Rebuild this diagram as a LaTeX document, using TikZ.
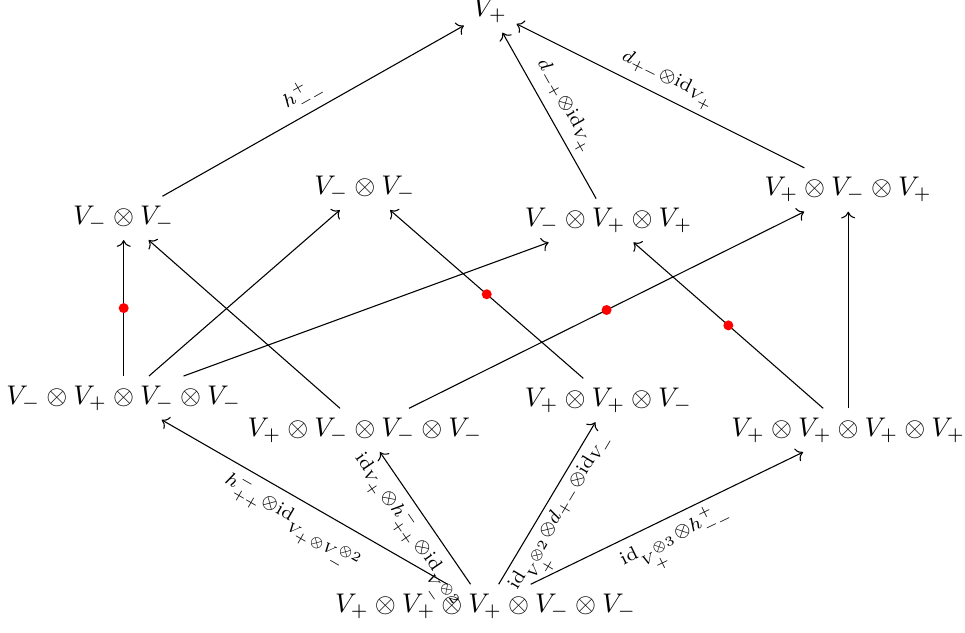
\documentclass[tikz,border=0pt]{standalone}
\usetikzlibrary{arrows.meta}

\begin{document}
\begin{tikzpicture}[>=To,lbl/.style={sloped,inner sep=2pt},dot/.style={circle,fill=red,inner sep=0pt,minimum size=3.7pt}]
\useasboundingbox (0,0) rectangle (12.56,8.23);
\node (top) at (6.38,8.09) {$V_+$};
\node (mm1) at (1.61,5.39) {$V_-\otimes V_-$};
\node (mm2) at (4.75,5.78) {$V_-\otimes V_-$};
\node (mpp) at (7.92,5.36) {$V_-\otimes V_+\otimes V_+$};
\node (pmp) at (11.04,5.76) {$V_+\otimes V_-\otimes V_+$};
\node (mpmm) at (1.61,3.05) {$V_-\otimes V_+\otimes V_-\otimes V_-$};
\node (pmmm) at (4.75,2.63) {$V_+\otimes V_-\otimes V_-\otimes V_-$};
\node (ppm) at (7.92,3.02) {$V_+\otimes V_+\otimes V_-$};
\node (pppp) at (11.04,2.63) {$V_+\otimes V_+\otimes V_+\otimes V_+$};
\node (bot) at (6.32,0.34) {$V_+\otimes V_+\otimes V_+\otimes V_-\otimes V_-$};
% top row
\draw[->] (mm1)--(top) node[midway,lbl,above] {$\scriptstyle h^+_{--}$};
\draw[->] (mpp)--(top) node[midway,lbl,above] {$\scriptstyle d_{-+}\otimes\mathrm{id}_{V_+}$};
\draw[->] (pmp)--(top) node[midway,lbl,above] {$\scriptstyle d_{+-}\otimes\mathrm{id}_{V_+}$};
% middle
\draw[->] (mpmm)--(mm1) node[midway,dot] (d1) {};
\draw[->] (mpmm)--(mm2);
\draw[->] (mpmm)--(mpp);
\draw[->] (pmmm)--(mm1);
\draw[->] (pmmm)--(pmp) node[midway,dot] (d2) {};
\draw[->] (ppm)--(mm2) node[midway,dot] (d3) {};
\draw[->] (pppp)--(mpp) node[midway,dot] (d4) {};
\draw[->] (pppp)--(pmp);
% bottom row
\draw[->] (bot)--(mpmm) node[midway,lbl,below] {$\scriptstyle h^-_{++}\otimes\mathrm{id}_{V_+\otimes V_-^{\otimes 2}}$};
\draw[->] (bot)--(pmmm) node[midway,lbl,below] {$\scriptstyle \mathrm{id}_{V_+}\otimes h^-_{++}\otimes\mathrm{id}_{V_-^{\otimes 2}}$};
\draw[->] (bot)--(ppm) node[midway,lbl,below] {$\scriptstyle \mathrm{id}_{V_+^{\otimes 2}}\otimes d_{+-}\otimes\mathrm{id}_{V_-}$};
\draw[->] (bot)--(pppp) node[midway,lbl,below] {$\scriptstyle \mathrm{id}_{V_+^{\otimes 3}}\otimes h^+_{--}$};
\end{tikzpicture}
\end{document}
